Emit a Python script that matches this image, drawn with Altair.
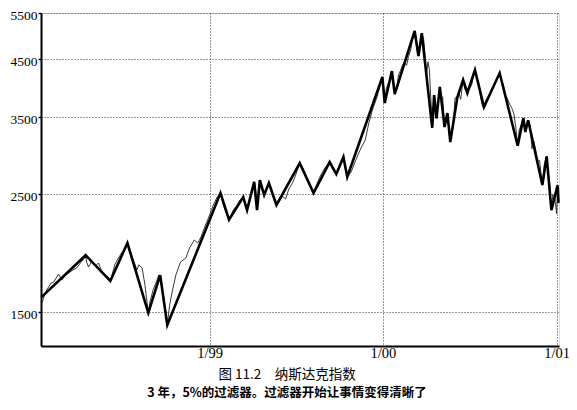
import altair as alt
import pandas as pd

# Daily index (thin line)
thin_dates = [
    "1998-01-13", "1998-01-17", "1998-01-23", "1998-02-01", "1998-02-07", "1998-02-13",
    "1998-02-17", "1998-02-24", "1998-03-02", "1998-03-10", "1998-03-19", "1998-03-27",
    "1998-04-04", "1998-04-11", "1998-04-15", "1998-04-17", "1998-04-21", "1998-04-27",
    "1998-05-06", "1998-05-12", "1998-05-18", "1998-05-27", "1998-06-02", "1998-06-06",
    "1998-06-10", "1998-06-16", "1998-06-23", "1998-07-01", "1998-07-05", "1998-07-12",
    "1998-07-20", "1998-07-26", "1998-08-01", "1998-08-05", "1998-08-12", "1998-08-18",
    "1998-08-25", "1998-08-28", "1998-09-04", "1998-09-10", "1998-09-16", "1998-09-20",
    "1998-09-27", "1998-10-04", "1998-10-09", "1998-10-15", "1998-10-22", "1998-11-01",
    "1998-11-12", "1998-11-20", "1998-11-30", "1998-12-07", "1998-12-13", "1998-12-21",
    "1999-01-01", "1999-01-09", "1999-01-17", "1999-01-24", "1999-01-30", "1999-02-05",
    "1999-02-11", "1999-02-20", "1999-02-28", "1999-03-06", "1999-03-13", "1999-03-17",
    "1999-03-21", "1999-03-27", "1999-04-01", "1999-04-05", "1999-04-08", "1999-04-11",
    "1999-04-14", "1999-04-17", "1999-04-21", "1999-04-26", "1999-05-01", "1999-05-06",
    "1999-05-11", "1999-05-16", "1999-05-22", "1999-05-28", "1999-06-04", "1999-06-10",
    "1999-06-17", "1999-06-24", "1999-06-30", "1999-07-05", "1999-07-10", "1999-07-15",
    "1999-07-20", "1999-07-26", "1999-08-01", "1999-08-08", "1999-08-14", "1999-08-20",
    "1999-08-27", "1999-09-03", "1999-09-11", "1999-09-16", "1999-09-21", "1999-09-25",
    "1999-10-01", "1999-10-06", "1999-10-10", "1999-10-14", "1999-10-18", "1999-10-26",
    "1999-11-05", "1999-11-16", "1999-11-25", "1999-12-02", "1999-12-10", "1999-12-19",
    "1999-12-25", "1999-12-31", "2000-01-02", "2000-01-03", "2000-01-05", "2000-01-08",
    "2000-01-12", "2000-01-16", "2000-01-20", "2000-01-23", "2000-01-26", "2000-01-30",
    "2000-02-03", "2000-02-08", "2000-02-12", "2000-02-16", "2000-02-20", "2000-02-24",
    "2000-02-29", "2000-03-03", "2000-03-06", "2000-03-08", "2000-03-11", "2000-03-14",
    "2000-03-16", "2000-03-19", "2000-03-23", "2000-03-27", "2000-03-30", "2000-04-02",
    "2000-04-05", "2000-04-08", "2000-04-11", "2000-04-14", "2000-04-18", "2000-04-20",
    "2000-04-23", "2000-04-26", "2000-04-30", "2000-05-03", "2000-05-06", "2000-05-10",
    "2000-05-13", "2000-05-16", "2000-05-19", "2000-05-22", "2000-05-25", "2000-05-29",
    "2000-06-01", "2000-06-06", "2000-06-09", "2000-06-13", "2000-06-18", "2000-06-22",
    "2000-06-27", "2000-07-01", "2000-07-06", "2000-07-10", "2000-07-13", "2000-07-17",
    "2000-07-21", "2000-07-25", "2000-07-29", "2000-08-01", "2000-08-06", "2000-08-12",
    "2000-08-17", "2000-08-23", "2000-08-29", "2000-09-03", "2000-09-07", "2000-09-11",
    "2000-09-15", "2000-09-19", "2000-09-24", "2000-09-28", "2000-10-03", "2000-10-07",
    "2000-10-11", "2000-10-14", "2000-10-19", "2000-10-23", "2000-10-27", "2000-11-02",
    "2000-11-06", "2000-11-10", "2000-11-14", "2000-11-18", "2000-11-22", "2000-11-26",
    "2000-12-02", "2000-12-06", "2000-12-11", "2000-12-14", "2000-12-17", "2000-12-21",
    "2000-12-24", "2000-12-28", "2001-01-01", "2001-01-03", "2001-01-05",
]
thin_values = [
    1560, 1600, 1650, 1701, 1709, 1746,
    1769, 1723, 1754, 1777, 1800, 1816,
    1856, 1888, 1920, 1865, 1824, 1865,
    1832, 1856, 1800, 1761, 1746, 1716,
    1769, 1848, 1896, 1947, 1964, 2024,
    1930, 1865, 1800, 1841, 1816, 1686,
    1494, 1560, 1650, 1701, 1761, 1723,
    1580, 1418, 1546, 1650, 1761, 1865,
    1896, 1982, 2051, 2024, 2069, 2160,
    2286, 2388, 2472, 2516, 2388, 2306,
    2240, 2336, 2388, 2440, 2472, 2380,
    2336, 2450, 2560, 2640, 2560, 2336,
    2540, 2661, 2560, 2494, 2560, 2627,
    2540, 2450, 2388, 2430, 2480, 2450,
    2560, 2620, 2700, 2780, 2865, 2820,
    2760, 2660, 2600, 2516, 2600, 2680,
    2760, 2820, 2878, 2800, 2760, 2731,
    2820, 2900, 2941, 2800, 2697, 2755,
    2903, 3059, 3168, 3395, 3608, 3801,
    3970, 4164, 4050, 3900, 3719, 3950,
    4050, 4100, 4274, 4150, 3867, 3950,
    4200, 4300, 4400, 4420, 4380, 4550,
    4700, 4900, 4950, 5086, 4850, 4650,
    4561, 4800, 5040, 4900, 4550, 4200,
    4450, 4300, 3800, 3340, 3850, 3650,
    3480, 3750, 3990, 3800, 3820, 3351,
    3500, 3560, 3380, 3139, 3250, 3450,
    3800, 3817, 3880, 3780, 4111, 3950,
    3885, 3960, 4020, 4200, 4292, 4150,
    4050, 3800, 3660, 3655, 3780, 3850,
    3950, 4020, 4150, 4237, 4100, 4022,
    3850, 3800, 3700, 3650, 3550, 3350,
    3090, 3300, 3400, 3484, 3280, 3451,
    3380, 3050, 3150, 3030, 2900, 2900,
    2604, 2850, 2950, 2750, 2650, 2336,
    2500, 2470, 2300, 2600, 2410,
]

# 5% filter turning points (thick line)
thick_dates = [
    "1998-01-12", "1998-04-15", "1998-06-06", "1998-07-12", "1998-08-25", "1998-09-19",
    "1998-10-04", "1999-01-24", "1999-02-11", "1999-03-13", "1999-03-21", "1999-04-05",
    "1999-04-11", "1999-04-17", "1999-04-26", "1999-05-06", "1999-05-22", "1999-07-10",
    "1999-08-08", "1999-09-11", "1999-09-25", "1999-10-10", "1999-10-18", "1999-12-31",
    "2000-01-05", "2000-01-20", "2000-01-26", "2000-03-08", "2000-03-16", "2000-03-23",
    "2000-04-14", "2000-04-18", "2000-04-23", "2000-04-30", "2000-05-10", "2000-05-16",
    "2000-05-22", "2000-06-06", "2000-06-18", "2000-06-27", "2000-07-13", "2000-08-01",
    "2000-09-03", "2000-10-11", "2000-10-23", "2000-10-27", "2000-11-02", "2000-12-02",
    "2000-12-11", "2000-12-21", "2001-01-03", "2001-01-05",
]
thick_values = [
    1600, 1920, 1716, 2024, 1494, 1761,
    1418, 2516, 2240, 2472, 2336, 2640,
    2336, 2661, 2494, 2627, 2388, 2865,
    2516, 2878, 2731, 2941, 2697, 4164,
    3719, 4274, 3867, 5086, 4561, 5040,
    3340, 3850, 3480, 3990, 3351, 3560,
    3139, 3817, 4111, 3885, 4292, 3655,
    4237, 3090, 3484, 3280, 3451, 2604,
    2950, 2336, 2600, 2410,
]

y_ticks = [1500, 2500, 3500, 4500, 5500]
x_tick_years = [1999, 2000, 2001]

thin_df = pd.DataFrame({"date": thin_dates, "value": thin_values})
thick_df = pd.DataFrame({"date": thick_dates, "value": thick_values})

x_scale = alt.Scale(
    type="utc",
    domain=[alt.DateTime(year=1998, month=1, date=11, utc=True),
            alt.DateTime(year=2001, month=1, date=6, utc=True)],
)
y_scale = alt.Scale(type="log", domain=[1294, 5500], nice=False)

x_axis = alt.Axis(
    values=[alt.DateTime(year=y, month=1, date=1, utc=True) for y in x_tick_years],
    labelExpr="utcFormat(datum.value, '%-m/%y')",
    title=None, grid=True, ticks=False, labelPadding=0, labelFlush=False,
    labelFont="Liberation Serif", labelFontSize=14.5, labelColor="black",
    gridColor="#333", gridDash=[1, 2], gridWidth=1,
    domainColor="black", domainWidth=2,
)
y_axis = alt.Axis(
    values=y_ticks, format="d", title=None, grid=True,
    tickSize=3, tickColor="black", tickWidth=1.5, labelPadding=1, labelOffset=2,
    labelFont="Liberation Serif", labelFontSize=13.5, labelColor="black",
    gridColor="#333", gridDash=[1, 2], gridWidth=1,
    domainColor="black", domainWidth=2,
)

thin = alt.Chart(thin_df).mark_line(color="#222", strokeWidth=0.9).encode(
    x=alt.X("date:T", scale=x_scale, axis=x_axis),
    y=alt.Y("value:Q", scale=y_scale, axis=y_axis),
)
thick = alt.Chart(thick_df).mark_line(color="black", strokeWidth=2.6).encode(
    x=alt.X("date:T", scale=x_scale),
    y=alt.Y("value:Q", scale=y_scale),
)

chart = (
    alt.layer(thin, thick)
    .properties(
        width=518,
        height=333,
        autosize=alt.AutoSizeParams(type="none"),
        padding={"left": 33, "right": 10, "top": 5, "bottom": 56},
        title=alt.TitleParams(
            text="图 11.2　纳斯达克指数",
            subtitle="3 年，5%的过滤器。过滤器开始让事情变得清晰了",
            orient="bottom",
            anchor="middle",
            dx=-13,
            offset=8,
            font="Noto Sans CJK SC",
            fontSize=13.5,
            fontWeight="normal",
            color="black",
            subtitleFont="Noto Sans CJK SC",
            subtitleFontSize=12.5,
            subtitleFontWeight="bold",
            subtitleColor="black",
            subtitlePadding=6,
        ),
    )
    .configure_view(stroke="black", strokeWidth=2)
    .configure(background="white")
)

chart.save("out.html", embed_options={"renderer": "svg", "actions": False})
